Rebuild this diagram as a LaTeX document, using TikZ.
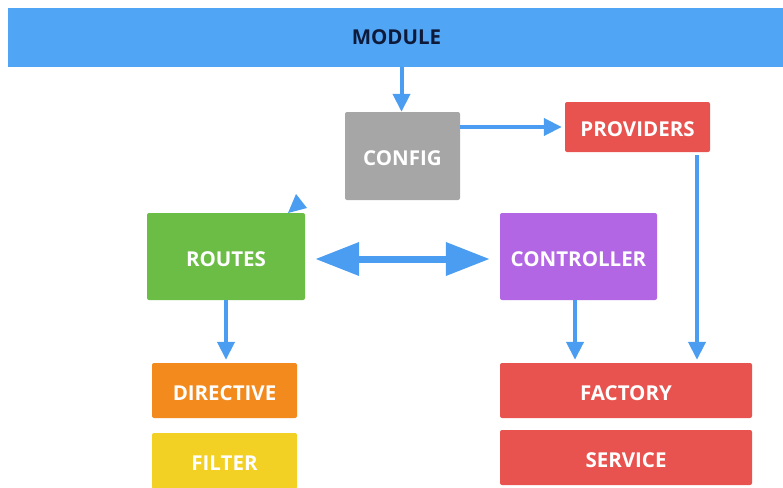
\documentclass[tikz,border=0pt]{standalone}
\usepackage{fontspec}
\setmainfont{Open Sans}
\usetikzlibrary{arrows.meta}

\definecolor{barblue}{HTML}{51A5F5}
\definecolor{linkblue}{HTML}{4A9DF0}
\definecolor{cfggray}{HTML}{A6A6A6}
\definecolor{provred}{HTML}{E8534F}
\definecolor{routegreen}{HTML}{6CBD45}
\definecolor{ctrlpurple}{HTML}{B266E3}
\definecolor{dirorange}{HTML}{F28A1E}
\definecolor{filtyellow}{HTML}{F2D024}
\definecolor{navytext}{HTML}{0E1A3A}

\tikzset{
  labelfont/.style={font=\bfseries\fontsize{20.5}{24}\selectfont},
  % labels sit a little below the middle of each box
  box/.style={rectangle, rounded corners=2pt, inner sep=0pt,
    text height=19pt, text depth=0pt, text=white, labelfont},
  link/.style={draw=linkblue, line width=4pt,
    -{Triangle[length=18pt,width=17pt]}},
  bothways/.style={draw=linkblue, line width=7pt,
    {Triangle[length=44pt,width=32pt]}-{Triangle[length=44pt,width=32pt]}},
}

\begin{document}
\begin{tikzpicture}[x=1pt,y=-1pt]
  \useasboundingbox (0,0) rectangle (783,487);

  % top bar
  \node[rectangle, inner sep=0pt, fill=barblue, minimum width=777pt, minimum height=59pt,
        text=navytext, labelfont]
        (module) at (396.5,37.5) {MODULE};

  % arrowhead partly hidden behind ROUTES
  \fill[linkblue] (296,194) -- (307,208) -- (288,213) -- cycle;

  % boxes
  \node[box, fill=cfggray,    minimum width=115pt, minimum height=88pt] (config)     at (402.5,156) {CONFIG};
  \node[box, fill=provred,    minimum width=145pt, minimum height=50pt] (providers)  at (637.5,127) {PROVIDERS};
  \node[box, fill=routegreen, minimum width=158pt, minimum height=87pt] (routes)     at (226,256.5) {ROUTES};
  \node[box, fill=ctrlpurple, minimum width=157pt, minimum height=87pt] (controller) at (578.5,256.5) {CONTROLLER};
  \node[box, fill=dirorange,  minimum width=145pt, minimum height=55pt] (directive)  at (224.5,390.5) {DIRECTIVE};
  \node[box, fill=filtyellow, minimum width=145pt, minimum height=56pt] (filter)     at (224.5,461) {FILTER};
  \node[box, fill=provred,    minimum width=252pt, minimum height=55pt] (factory)    at (626,390.5) {FACTORY};
  \node[box, fill=provred,    minimum width=252pt, minimum height=55pt] (service)    at (626,457.5) {SERVICE};

  % connectors
  \draw[link] (module.south -| config.north) ++(-1,0) coordinate (m0) -- (m0 |- config.north);
  \draw[link, shorten >=3pt] (config.east |- providers.west) -- (providers.west);
  \coordinate (p0) at ([xshift=59.5pt,yshift=-3pt]providers.south);
  \draw[link, shorten >=3pt] (p0) -- (p0 |- factory.north);
  \coordinate (c0) at ([xshift=-3.5pt]controller.south);
  \draw[link, shorten >=3pt] (c0) -- (c0 |- factory.north);
  \draw[link, shorten >=3pt] (routes.south) -- (routes.south |- directive.north);
  \draw[bothways, shorten <=10pt, shorten >=10pt]
    ([yshift=-2.5pt]routes.east) -- ([yshift=-2.5pt]controller.west);
\end{tikzpicture}
\end{document}
